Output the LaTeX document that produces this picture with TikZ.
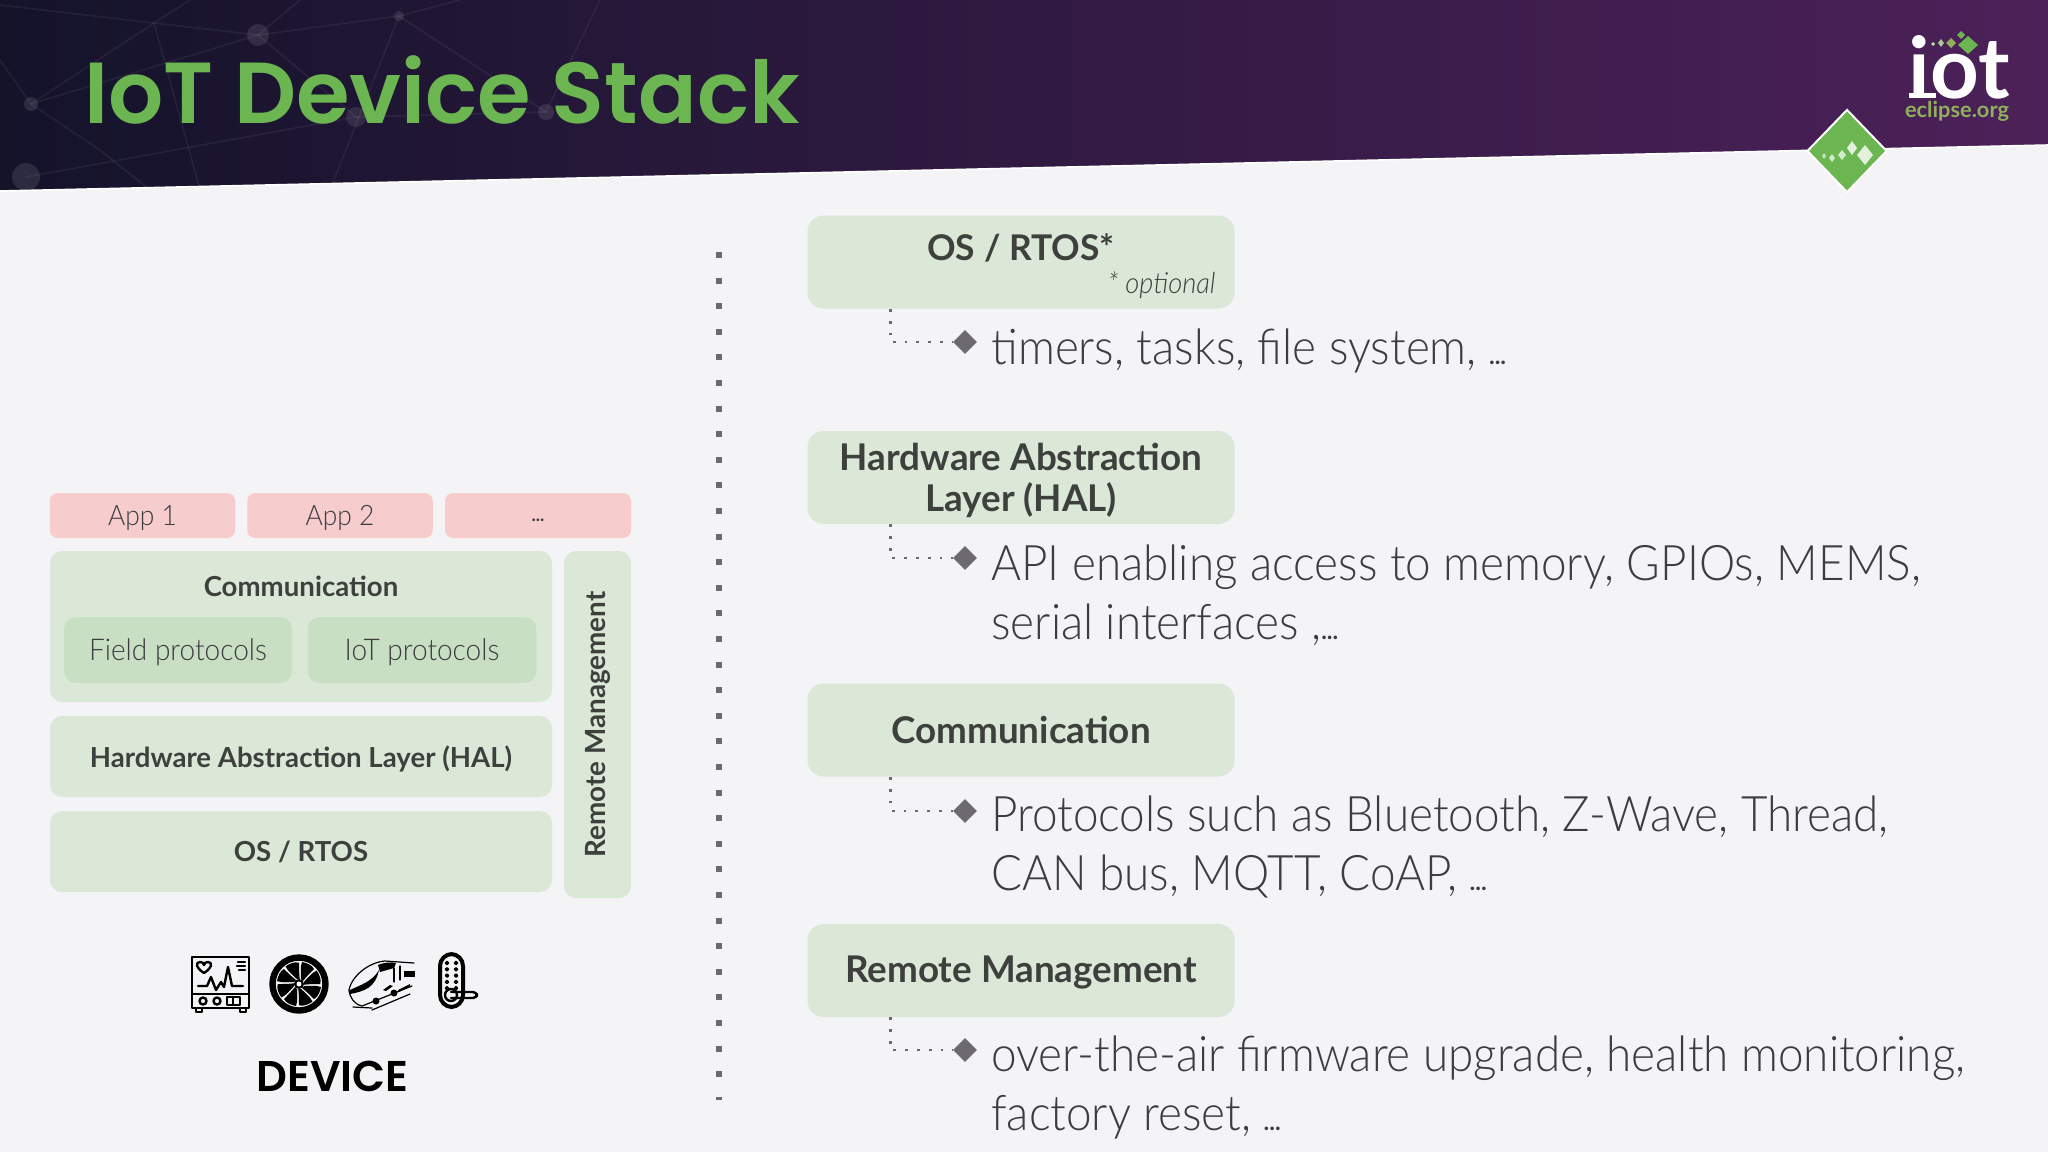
\documentclass[tikz,border=0pt]{standalone}
\usepackage{fontspec}
\setmainfont{Lato}[UprightFont=* Light, BoldFont=* Bold, ItalicFont=* Light Italic, FakeStretch=0.935]
\newfontfamily\titlef{Poppins}[UprightFont=* SemiBold]
\newfontfamily\headf{Lato}[UprightFont=* Bold]
\usetikzlibrary{shapes.geometric,calc}

\definecolor{pagebg}{HTML}{F4F3F5}
\definecolor{hdrA}{HTML}{14132A}
\definecolor{hdrM}{HTML}{2B1738}
\definecolor{hdrB}{HTML}{4C2159}
\definecolor{boxgreen}{HTML}{DBE8D8}
\definecolor{innergreen}{HTML}{C9DFC3}
\definecolor{boxpink}{HTML}{F6CCCD}
\definecolor{titlegreen}{HTML}{6CB652}
\definecolor{olive}{HTML}{8FAF5C}
\definecolor{ink}{HTML}{3D403C}
\definecolor{body}{HTML}{3C3C42}
\definecolor{dotgrey}{HTML}{6C6A70}

\newcommand\smalldots[1]{{\headf\fontsize{#1}{#1}\selectfont ...}}
% nudges a centred label down: a raised phantom makes the node taller on top
\newcommand\dn[1]{\raisebox{2.4pt}{\vphantom{#1}}#1}

\tikzset{
  boxsize/.style 2 args={minimum width=#1*0.5pt, minimum height=#2*0.5pt},
  box/.style={rectangle, inner sep=0pt, rounded corners=6pt, align=center, text=ink},
  stack/.style={box, fill=boxgreen, font=\headf\fontsize{13.8}{16}\selectfont},
  innerbox/.style={box, fill=innergreen, text=body, font=\fontsize{15}{17}\selectfont},
  app/.style={box, rounded corners=4pt, fill=boxpink, text=body, font=\fontsize{14.1}{16}\selectfont},
  topic/.style={box, fill=boxgreen, rounded corners=8pt, font=\headf\fontsize{18.4}{20.5}\selectfont},
  bullet/.style={diamond, fill=dotgrey, inner sep=0pt, minimum width=12pt, minimum height=12pt},
  dotlink/.style={dotgrey, line width=1.4pt, dash pattern=on 1.4pt off 4.5pt},
  itemtext/.style={anchor=base west, inner sep=0pt, text=body, align=left, font=\fontsize{24.5}{29.4}\selectfont},
  net/.style={white, opacity=0.06, line width=0.8pt},
  netdot/.style={white, opacity=0.10},
  icon/.style={line width=1.2pt, black, line cap=round, line join=round},
}

\begin{document}
\begin{tikzpicture}[x=0.5pt, y=-0.5pt]
\useasboundingbox (0,0) rectangle (2048,1152);
\fill[pagebg] (0,0) rectangle (2048,1152);

%% header band
\shade[left color=hdrA, middle color=hdrM, right color=hdrB]
  (0,0) -- (2048,0) -- (2048,145) -- (0,191) -- cycle;
\draw[white, line width=0.8pt] (0,191) -- (2048,145);

%% faint network behind the title
\begin{scope}
  \clip (0,0) -- (2048,0) -- (2048,145) -- (0,191) -- cycle;
  \draw[net] (0,5) -- (154,23) -- (258,35) -- (399,16) -- (460,0);
  \draw[net] (31,104) -- (154,23) -- (190,0);
  \draw[net] (31,104) -- (258,35) -- (356,117) -- (26,177);
  \draw[net] (31,104) -- (100,150) -- (150,190);
  \draw[net] (154,23) -- (200,190);
  \draw[net] (399,16) -- (330,190);
  \draw[net] (399,16) -- (546,112) -- (600,0);
  \draw[net] (258,35) -- (300,0);
  \draw[net] (356,117) -- (546,112);
  \draw[net] (0,60) -- (31,104);
  \fill[netdot] (31,104) circle (7);
  \fill[netdot] (26,177) circle (14);
  \fill[netdot] (258,35) circle (11);
  \fill[netdot] (399,16) circle (5);
  \fill[netdot] (356,117) circle (10);
  \fill[netdot] (546,112) circle (8);
\end{scope}

\node[anchor=base west, inner sep=0pt, text=titlegreen, font=\titlef\fontsize{43.3}{50}\selectfont]
  (title) at (84,123) {IoT Device Stack};

%% logo
\node[anchor=base, inner sep=0pt, text=white, font=\headf\fontsize{42.5}{46}\selectfont] (logo) at (1959,98) {iot};
\fill[white] (1909,93) rectangle (1936,98);
\node[anchor=base, inner sep=0pt, text=olive, font=\headf\fontsize{10.9}{12}\selectfont] (logourl) at (1957,117) {eclipse.org};
\fill[titlegreen] (1968,36) -- (1978,45) -- (1968,54) -- (1958,45) -- cycle;
\fill[titlegreen] (1961,31) -- (1965,35) -- (1961,39) -- (1957,35) -- cycle;
\fill[olive] (1951,38) -- (1956,43) -- (1951,48) -- (1946,43) -- cycle;
\fill[olive!70!white] (1941,39) -- (1944,43) -- (1941,47) -- (1938,43) -- cycle;
\fill[olive!50!white] (1933,42) -- (1935,44) -- (1933,46) -- (1931,44) -- cycle;

%% big diamond on the band edge
\node[diamond, fill=titlegreen, draw=white, line width=1pt, inner sep=0pt, minimum width=40pt, minimum height=41.5pt] (badge) at (1847,151) {};
\fill[white!80!titlegreen] (1865,145) -- (1873,155) -- (1865,165) -- (1857,155) -- cycle;
\fill[white!80!titlegreen] (1852,141) -- (1857,148) -- (1852,155) -- (1847,148) -- cycle;
\fill[white!70!titlegreen] (1842,150) -- (1846,155) -- (1842,160) -- (1838,155) -- cycle;
\fill[white!70!titlegreen] (1832,154) -- (1835,158) -- (1832,162) -- (1829,158) -- cycle;
\fill[white!60!titlegreen] (1824,153) -- (1826,156) -- (1824,159) -- (1822,156) -- cycle;

%% left: device stack
\node[app, boxsize={185.5}{45}] (app1) at (142.5,515.5) {\dn{App 1}};
\node[app, boxsize={185.5}{45}] (app2) at (340,515.5) {\dn{App 2}};
\node[app, boxsize={186}{45}]   (app3) at (538,515.5) {\raisebox{5pt}{\vphantom{\smalldots{9}}}\smalldots{9}};

\node[stack, boxsize={502}{151}] (comm) at (301,626.5) {};
\node[anchor=center, inner sep=0pt, text=ink, font=\headf\fontsize{13.8}{16}\selectfont] (commlabel) at (301,586) {Communication};
\node[innerbox, boxsize={228}{66}] (field) at (178,650) {\dn{Field protocols}};
\node[innerbox, boxsize={228.5}{66}] (iotp) at (422,650) {\dn{IoT protocols}};
\node[stack, boxsize={502}{81}] (hal) at (301,756.5) {\dn{Hardware Abstraction Layer (HAL)}};
\node[stack, boxsize={502}{81}] (os) at (301,851.5) {OS / RTOS};
\node[stack, boxsize={67}{347}] (remote) at (597.5,724.5) {};
\node[rotate=90, inner sep=0pt, text=ink, font=\headf\fontsize{13.9}{16}\selectfont] (remotelabel) at (598,724.5) {Remote Management};

%% device icons: monitor
\begin{scope}[icon]
  \draw (192,957) rectangle (249,1008);
  \draw (192,994) -- (249,994);
  \draw (196,1008) rectangle (202,1012);
  \draw (240,1008) rectangle (246,1012);
  \draw (198,986) -- (207,986) -- (211,977) -- (216,990) -- (221,982) -- (224,987) -- (228,967) -- (232,986) -- (243,986);
  \draw (204,973) .. controls (196,968) and (195,962) .. (200,962) .. controls (202,962) and (204,963) .. (204,965) .. controls (204,963) and (206,962) .. (208,962) .. controls (213,962) and (212,968) .. (204,973) -- cycle;
  \draw (238,962) -- (245,962) (237,966) -- (245,966) (239,970) -- (245,970);
  \draw (203,1001) circle (3.5) (217,1001) circle (3.5);
  \draw (227,997) rectangle (240,1005) (233,997) -- (233,1005);
\end{scope}

%% fan
\draw[black, line width=3.2pt] (299,984) circle (26.5);
\foreach \a in {0,45,...,315}
  \fill[black, shift={(299,984)}, rotate=\a]
    (2,-5) .. controls (2,-11) and (1,-17) .. (3,-22) .. controls (8,-21) and (13,-19) .. (15,-15) .. controls (11,-11) and (8,-8) .. (4,-3) -- cycle;
\fill[black] (299,984) circle (5);
\fill[white] (299,984) circle (2.5);

%% train
\begin{scope}[icon, line width=0.6pt]
  \draw (349,990) .. controls (352,975) and (370,962) .. (385,961) -- (414,963);
  \draw (349,990) .. controls (350,998) and (354,1004) .. (362,1006) -- (412,986);
  \draw (353,1007) -- (372,1008) (372,1010) -- (410,994);
  \fill[black] (350,990) .. controls (360,985) and (372,982) .. (379,970) .. controls (375,988) and (365,991) .. (350,994) -- cycle;
  \fill[black] (378,965) .. controls (385,962) and (392,962) .. (396,963) -- (394,968) -- (380,972) -- cycle;
  \fill[black] (404,971) rectangle (415,977);
  \draw (394,968) -- (394,982) (400,966) -- (400,980);
  \fill[black] (383,990) -- (390,985) -- (393,986) -- (386,991) -- cycle;
  \fill[black] (376,1001) circle (3.5) (394,993) circle (3.5);
  \fill[black] (398,990) -- (410,984) -- (410,986) -- (399,992) -- cycle;
\end{scope}

%% lock
\begin{scope}[icon]
  \draw[line width=2pt, rounded corners=6pt] (440,954) rectangle (463,1007);
  \foreach \dy in {0,1,2,3,4} {
    \draw[line width=0.8pt] (447,{963+\dy*6.3}) circle (1.5);
    \draw[line width=0.8pt] (456,{963+\dy*6.3}) circle (1.5);
  }
  \draw[line width=1.2pt] (451,995) circle (6);
  \draw[line width=1.2pt, rounded corners=2pt] (451,992) -- (477,992) -- (477,998) -- (451,998);
\end{scope}

\node[anchor=base, inner sep=0pt, text=black, font=\titlef\fontsize{21.5}{25}\selectfont] (device) at (332.5,1091) {DEVICE};

%% dotted divider
\coordinate (divtop) at (719,252);
\coordinate (divbot) at (719,1100);
\draw[dotgrey, line width=3pt, dash pattern=on 3pt off 9.8pt] (divtop) -- (divbot);

%% right: topics
\node[topic, boxsize={427}{93}] (t1) at (1021,262) {};
\node[inner sep=0pt, text=ink, font=\headf\fontsize{17.7}{20.5}\selectfont] (t1a) at (1021,248) {OS / RTOS*};
\node[anchor=east, inner sep=0pt, text=ink, font=\itshape\fontsize{14.6}{16}\selectfont] (t1b) at (1216,285) {* optional};
\node[topic, boxsize={427}{93}] (t2) at (1021,477.5) {\dn{Hardware Abstraction}\\Layer (HAL)};
\node[topic, boxsize={427}{93}] (t3) at (1021,730) {Communication};
\node[topic, boxsize={427}{93}] (t4) at (1021,970.5) {\dn{Remote Management}};

\node[bullet] (m1) at (965,342) {};
\node[bullet] (m2) at (965,558) {};
\node[bullet] (m3) at (965,811) {};
\node[bullet] (m4) at (965,1050) {};

\draw[dotlink] ($(t1.south west)!0.195!(t1.south east)$) |- (m1.west);
\draw[dotlink] ($(t2.south west)!0.195!(t2.south east)$) |- (m2.west);
\draw[dotlink] ($(t3.south west)!0.195!(t3.south east)$) |- (m3.west);
\draw[dotlink] ($(t4.south west)!0.195!(t4.south east)$) |- (m4.west);

\node[itemtext] (d1) at (991,364.5) {timers, tasks, file system, \smalldots{12}};
\node[itemtext] (d2) at (991,639) {API enabling access to memory, GPIOs, MEMS,\\serial interfaces ,\smalldots{12}};
\node[itemtext] (d3) at (991,890) {Protocols such as Bluetooth, Z-Wave, Thread,\\CAN bus, MQTT, CoAP, \smalldots{12}};
\node[itemtext] (d4) at (991,1130) {over-the-air firmware upgrade, health monitoring,\\factory reset, \smalldots{12}};
\end{tikzpicture}
\end{document}
